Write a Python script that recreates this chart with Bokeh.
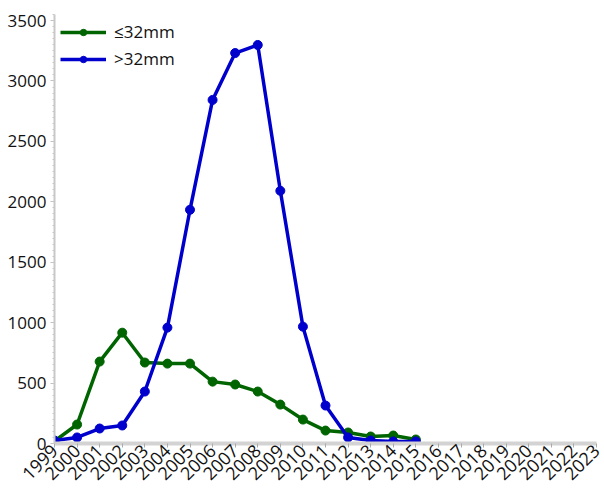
from bokeh.plotting import figure
from bokeh.models import ColumnDataSource, FixedTicker, Legend, LegendItem
from bokeh.embed import file_html
from bokeh.resources import INLINE
import math

years = list(range(1999, 2016))
small = [20, 157, 678, 917, 670, 661, 661, 512, 488, 430, 322, 198, 107, 91, 58, 66, 33]
large = [25, 50, 124, 149, 430, 959, 1934, 2843, 3231, 3298, 2091, 967, 314, 50, 25, 17, 17]
tick_years = list(range(1999, 2024))
y_ticks = [0, 500, 1000, 1500, 2000, 2500, 3000, 3500]
labels = ["≤32mm", ">32mm"]

green = "#006400"
blue = "#0000cd"
font = "Open Sans"

p = figure(width=604, height=488, output_backend="svg", toolbar_location=None,
           x_range=(1999, 2023), y_range=(0, 3550),
           min_border_left=54, min_border_right=8, min_border_top=14, min_border_bottom=44)
p.outline_line_color = None
p.xgrid.visible = False
p.ygrid.visible = False

src = ColumnDataSource(dict(x=years, s=small, l=large))
gl = p.line("x", "s", source=src, line_color=green, line_width=3.5)
gs = p.scatter("x", "s", source=src, size=9, color=green)
bl = p.line("x", "l", source=src, line_color=blue, line_width=3.5)
bs = p.scatter("x", "l", source=src, size=9, color=blue)

xa = p.xaxis[0]
xa.ticker = FixedTicker(ticks=tick_years)
xa.major_label_orientation = math.pi / 4
xa.major_label_text_font = font
xa.major_label_text_font_size = "18px"
xa.major_label_text_color = "#111111"
xa.axis_line_color = "#d3d3d3"
xa.axis_line_width = 4
xa.major_tick_line_color = "#aaaaaa"
xa.major_tick_in = 0
xa.major_tick_out = 4
xa.minor_tick_line_color = None
xa.major_label_standoff = 0

ya = p.yaxis[0]
ya.ticker = FixedTicker(ticks=y_ticks, minor_ticks=list(range(0, 3551, 50)))
ya.major_label_text_font = font
ya.major_label_text_font_size = "17px"
ya.major_label_text_color = "#111111"
ya.axis_line_color = "#c8c8c8"
ya.axis_line_width = 2
ya.major_tick_line_color = "#c0c0c0"
ya.major_tick_in = 0
ya.major_tick_out = 4
ya.minor_tick_line_color = "#c8c8c8"
ya.minor_tick_in = 0
ya.minor_tick_out = 2
ya.major_label_standoff = 4

legend = Legend(items=[LegendItem(label=labels[0], renderers=[gl, gs]),
                       LegendItem(label=labels[1], renderers=[bl, bs])],
                location="top_left", background_fill_alpha=0, border_line_color=None,
                label_text_font=font, label_text_font_size="17px", label_text_color="#111111",
                glyph_width=46, glyph_height=16, spacing=4, margin=6, padding=2,
                label_standoff=8)
p.add_layout(legend)

open("out.html", "w").write(file_html(p, INLINE))
